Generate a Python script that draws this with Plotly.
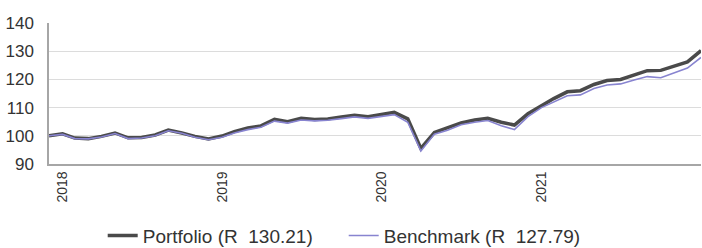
import pandas as pd
import plotly.graph_objects as go

dates = pd.date_range("2017-12-31", periods=50, freq="ME")

portfolio = [100.0, 100.7, 99.2, 99.0, 99.8, 101.0, 99.3, 99.4, 100.3, 102.0,
             101.0, 99.8, 98.9, 99.9, 101.5, 102.8, 103.5, 105.8, 105.0, 106.2,
             105.8, 106.0, 106.7, 107.3, 106.8, 107.5, 108.3, 106.0, 95.5, 101.2,
             102.8, 104.6, 105.6, 106.2, 104.8, 103.8, 107.8, 110.8, 113.2, 115.6,
             116.0, 118.2, 119.6, 120.0, 121.5, 123.1, 123.2, 124.7, 126.2, 130.21]

benchmark = [100.0, 100.5, 99.0, 98.9, 99.6, 100.8, 99.0, 99.2, 100.0, 101.8,
             100.9, 99.5, 98.6, 99.5, 101.0, 102.2, 103.0, 105.2, 104.5, 105.6,
             105.3, 105.5, 106.1, 106.7, 106.2, 106.8, 107.5, 104.8, 94.6, 100.6,
             102.0, 103.9, 104.8, 105.4, 103.6, 102.2, 106.8, 110.0, 112.0, 114.2,
             114.5, 116.8, 118.0, 118.4, 119.8, 121.0, 120.6, 122.4, 124.0, 127.79]

year_ticks = ["2018-01-31", "2019-01-31", "2020-01-31", "2021-01-31"]
year_labels = ["2018", "2019", "2020", "2021"]
y_ticks = [90, 100, 110, 120, 130, 140]

fig = go.Figure()
fig.add_trace(go.Scatter(x=dates, y=portfolio, mode="lines",
                         name="Portfolio (R\u00a0 130.21)",
                         line=dict(color="#4a4a4a", width=3.5)))
fig.add_trace(go.Scatter(x=dates, y=benchmark, mode="lines",
                         name="Benchmark (R\u00a0 127.79)",
                         line=dict(color="#8884d0", width=1.6)))

fig.update_layout(
    width=702, height=248,
    margin=dict(l=49, r=1, t=23, b=84),
    paper_bgcolor="white", plot_bgcolor="white",
    font=dict(family="Liberation Sans, Arial, sans-serif", color="#333333"),
    showlegend=True,
    legend=dict(orientation="h", xanchor="center", x=0.452,
                yref="container", yanchor="middle", y=0.05,
                font=dict(size=19, color="#333333"),
                entrywidth=196, entrywidthmode="pixels",
                bgcolor="rgba(0,0,0,0)"),
)
fig.update_xaxes(
    range=[dates[0], dates[-1]],
    tickvals=year_ticks, ticktext=year_labels, tickangle=-90,
    tickfont=dict(size=14, color="#333333"),
    showgrid=False, showline=True, linecolor="#a6a6a6", linewidth=1.5,
    ticks="", zeroline=False,
)
fig.update_yaxes(
    range=[90, 140], tickvals=y_ticks,
    tickfont=dict(size=17, color="#333333"),
    showgrid=True, gridcolor="#dcdcdc", gridwidth=1,
    showline=True, linecolor="#a6a6a6", linewidth=1.5,
    ticks="", ticklabelstandoff=10, zeroline=False,
)

fig.write_html("out.html", config={"displayModeBar": False},
               post_script="document.body.style.margin='0';document.body.style.overflow='hidden';")
